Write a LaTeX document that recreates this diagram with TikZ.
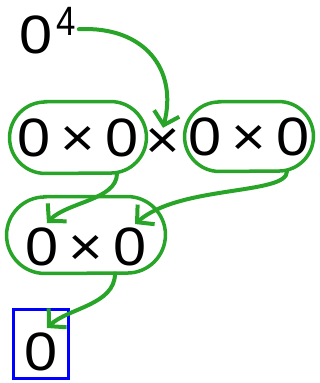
\documentclass[tikz,border=0pt]{standalone}
\usepackage{fontspec}
\setmainfont[FakeStretch=1.1]{Liberation Sans}
\newfontfamily\supfont[FakeStretch=0.85]{Liberation Sans}
\usetikzlibrary{arrows.meta}
\definecolor{objgreen}{RGB}{40,165,40}
\definecolor{objblue}{RGB}{0,0,255}
\newcommand{\bigtxt}{\fontsize{54}{60}\selectfont}
\newcommand{\pr}{\kern10pt×\kern10pt}
% capsule outline round a named node: #1 node, #2 half height
\newcommand{\capsule}[2]{\draw[pillline] ([xshift=#2]#1.north west) -- ([xshift=-#2]#1.north east) arc[start angle=90,end angle=-90,radius=#2] -- ([xshift=#2]#1.south west) arc[start angle=270,end angle=90,radius=#2] -- cycle;}
\tikzstyle{pillline}=[draw=objgreen, line width=3.5pt]
\tikzstyle{pill}=[rectangle, inner sep=0pt, font=\bigtxt]
\tikzstyle{term}=[draw=objblue, line width=3pt, rectangle, inner sep=0pt, font=\bigtxt]
\tikzstyle{word}=[inner sep=0pt, font=\bigtxt]
\tikzstyle{link}=[draw=objgreen, line width=4pt, line cap=round, -{Straight Barb[length=12pt,width=26pt]}]

\begin{document}
\begin{tikzpicture}[x=1pt,y=-1pt]
\useasboundingbox (0,0) rectangle (320,383);
\node[word, anchor=base west] (pow) at (19,53) {0\kern4pt\raisebox{18pt}{\supfont\fontsize{41}{42}\selectfont 4}};
\node[pill, minimum width=136.5pt, minimum height=71.5pt] (lp) at (78,137.5) {0\pr0};
\node[word, anchor=base] (mid) at (163,158) {×};
\node[pill, minimum width=128.5pt, minimum height=69.5pt] (rp) at (249,136.5) {0\pr0};
\node[pill, minimum width=158.5pt, minimum height=76.5pt, text height=60pt, text depth=0pt] (dp) at (86,235) {0\pr0};
\node[term, minimum width=55pt, minimum height=69pt, text height=52pt, text depth=0pt] (z) at (41,344) {0};
\capsule{lp}{35.75pt}
\capsule{rp}{34.75pt}
\capsule{dp}{38.25pt}
\draw[link] ([xshift=3pt,yshift=1pt]pow.east) .. controls (145,26) and (178,70) .. (mid.north);
\draw[link] ([xshift=39pt]lp.south) .. controls (117,200) and (67,202) .. ([xshift=-39pt,yshift=12pt]dp.center);
\draw[link] ([xshift=38pt]rp.south) .. controls (287,195) and (180,185) .. ([xshift=49pt,yshift=11pt]dp.center);
\draw[link] ([xshift=29pt]dp.south) .. controls (115,305) and (68,308) .. ([xshift=6pt,yshift=16pt]z.center);
\end{tikzpicture}
\end{document}
